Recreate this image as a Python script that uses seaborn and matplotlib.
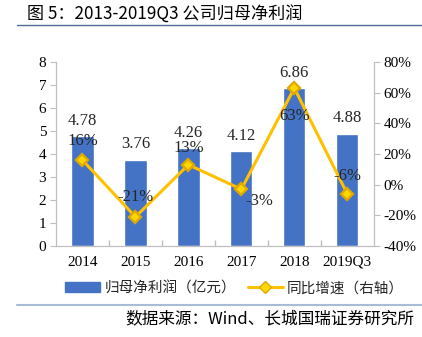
import matplotlib
matplotlib.use("Agg")
import matplotlib.pyplot as plt
import seaborn as sns
import pandas as pd
from matplotlib.lines import Line2D
from matplotlib.patches import Patch

years = ["2014", "2015", "2016", "2017", "2018", "2019Q3"]
profit = [4.78, 3.76, 4.26, 4.12, 6.86, 4.88]
growth = [16, -21, 13, -3, 63, -6]
growth_labels = ["16%", "-21%", "13%", "-3%", "63%", "-6%"]
y_ticks = [0, 1, 2, 3, 4, 5, 6, 7, 8]
y2_ticks = [-40, -20, 0, 20, 40, 60, 80]

sns.set_theme(style="white")
plt.rcParams['font.family'] = ['Noto Sans CJK SC', 'DejaVu Sans']
serif = ['Liberation Serif', 'DejaVu Serif']

df = pd.DataFrame({"year": years, "profit": profit, "growth": growth})

fig = plt.figure(figsize=(4.22, 3.37), dpi=100)
ax = fig.add_axes([0.1327, 0.270, 0.753, 0.546])

bar_color = "#4472C4"
line_color = "#FFC000"

sns.barplot(data=df, x="year", y="profit", color=bar_color, width=0.42,
            saturation=1, ax=ax)
ax.set_ylim(0, 8)
ax.set_yticks(y_ticks)
ax.set_xlabel("")
ax.set_ylabel("")
ax.set_xlim(-0.5, 5.5)

ax2 = ax.twinx()
sns.pointplot(data=df, x="year", y="growth", color=line_color, markers="D",
              markersize=6, linewidth=2.2, ax=ax2)
for l in ax2.lines:
    l.set_markeredgecolor("#E0A800")
    l.set_markerfacecolor("#FFD700")
ax2.set_ylim(-40, 80)
ax2.set_yticks(y2_ticks)
ax2.set_yticklabels([f"{v}%" for v in y2_ticks])
ax2.set_ylabel("")
ax2.set_xlim(-0.5, 5.5)

for a in (ax, ax2):
    for s in a.spines.values():
        s.set_color("#BFBFBF")
        s.set_linewidth(0.8)
    a.spines['top'].set_visible(False)
    a.tick_params(axis='both', labelsize=11, colors="#000000", length=4,
                  width=0.8, color="#BFBFBF", pad=3)
    for t in a.get_xticklabels() + a.get_yticklabels():
        t.set_fontfamily(serif)
ax.tick_params(axis='y', left=True, direction='out')
ax2.tick_params(axis='y', right=True, direction='out')
ax.tick_params(axis='x', bottom=False)
ax.set_xticks(range(len(years)))
ax.set_xticks([i + 0.5 for i in range(len(years) - 1)], minor=True)
ax.tick_params(axis='x', which='minor', bottom=True, length=4, color="#BFBFBF", direction='in')

# bar value labels
for i, v in enumerate(profit):
    ax.annotate(f"{v:.2f}", (i, v), xytext=(0, 11), textcoords='offset points',
                ha='center', va='center', fontsize=12, family=serif)

# growth labels (offsets in points)
offsets = [(0, 13.5), (0, 14), (0, 12), (13, -8.6), (0, -20), (0, 13)]
for i, (g, lab) in enumerate(zip(growth, growth_labels)):
    dx, dy = offsets[i]
    ax2.annotate(lab, (i, g), xytext=(dx, dy), textcoords='offset points',
                 ha='center', va='center', fontsize=12, family=serif)

# title
fig.text(0.064, 0.955, "图 5：2013-2019Q3 公司归母净利润", fontsize=12.3,
         ha='left', va='center', color="#000000")
fig.add_artist(Line2D([0.04, 1.0], [0.925, 0.925], color="#4F6E96", lw=1.0))
fig.add_artist(Line2D([0.04, 1.0], [0.095, 0.095], color="#A9BCD6", lw=1.5))
fig.text(0.983, 0.055, "数据来源：Wind、长城国瑞证券研究所", fontsize=12,
         ha='right', va='center', style='italic', color="#000000")

handles = [Patch(facecolor=bar_color, edgecolor=bar_color),
           Line2D([0], [0], color=line_color, lw=2.2, marker='D', markersize=6,
                  markerfacecolor="#FFD700", markeredgecolor="#E0A800")]
fig.legend(handles, ["归母净利润（亿元）", "同比增速（右轴）"], loc='center',
           bbox_to_anchor=(0.556, 0.145), ncol=2, frameon=False, fontsize=10.5,
           handlelength=2.4, handleheight=0.7, columnspacing=0.8, handletextpad=0.3)

fig.savefig("out.png", dpi=100)
